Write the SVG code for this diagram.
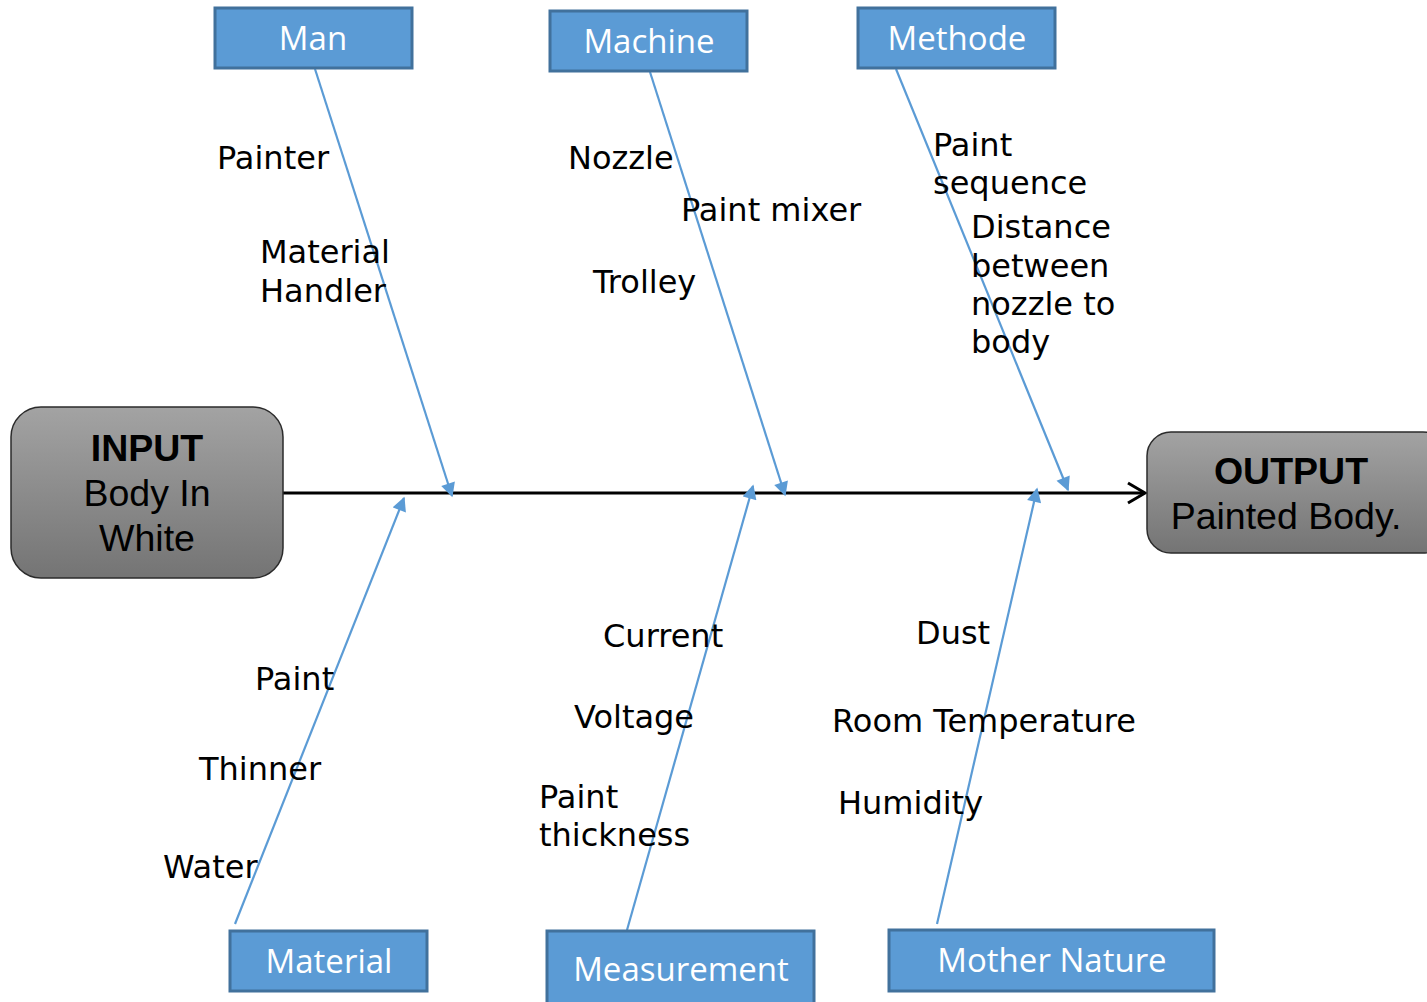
<svg xmlns="http://www.w3.org/2000/svg" width="1427" height="1002" viewBox="0 0 1427 1002">
  <defs>
    <linearGradient id="grayFill" x1="0" y1="0" x2="0" y2="1">
      <stop offset="0" stop-color="#a3a3a3"/>
      <stop offset="1" stop-color="#747474"/>
    </linearGradient>
    <marker id="bluehead" viewBox="0 0 10 10" refX="9" refY="5" markerWidth="7" markerHeight="6.5" markerUnits="strokeWidth" orient="auto">
      <path d="M0,0 L10,5 L0,10 Z" fill="#5b9bd5"/>
    </marker>
  </defs>
  <style>
    .cat rect { fill: #5b9bd5; stroke: #41719c; stroke-width: 3; }
    .cat text { fill: #ffffff; font-family: "Open Sans", "Noto Sans", sans-serif; font-size: 33px; text-anchor: middle; }
    .term rect { fill: url(#grayFill); stroke: #2b2b2b; stroke-width: 1.5; }
    .term text { fill: #000000; font-family: "Liberation Sans", Arial, sans-serif; font-size: 37.5px; text-anchor: middle; }
    .term .head { font-weight: bold; }
    .bone { stroke: #5b9bd5; stroke-width: 2.2; fill: none; marker-end: url(#bluehead); }
    .cause { fill: #000000; font-family: "DejaVu Sans", Verdana, sans-serif; font-size: 32px; }
  </style>

  <rect width="1427" height="1002" fill="#ffffff"/>

  <!-- spine and cause bones -->
  <g id="connectors">
    <line x1="283" y1="493" x2="1144" y2="493" stroke="#000" stroke-width="3"/>
    <polyline points="1128,483 1145,493 1128,503" fill="none" stroke="#000" stroke-width="3"/>
    <line class="bone" x1="315" y1="69" x2="452" y2="496"/>
    <line class="bone" x1="650" y1="72" x2="785" y2="495"/>
    <line class="bone" x1="896" y1="69" x2="1068" y2="490"/>
    <line class="bone" x1="235" y1="924" x2="404" y2="498"/>
    <line class="bone" x1="627" y1="930" x2="753" y2="486"/>
    <line class="bone" x1="937" y1="924" x2="1037" y2="489"/>
  </g>

  <!-- head and tail -->
  <g id="input" class="term">
    <rect x="11" y="407" width="272" height="171" rx="30" ry="30"/>
    <text x="147" y="461" class="head">INPUT</text>
    <text x="147" y="506">Body In</text>
    <text x="147" y="551">White</text>
  </g>
  <g id="output" class="term">
    <rect x="1147" y="432" width="300" height="121" rx="24" ry="24"/>
    <text x="1291" y="484" class="head">OUTPUT</text>
    <text x="1286" y="529">Painted Body.</text>
  </g>

  <!-- category boxes -->
  <g id="man" class="cat">
    <rect x="215" y="8" width="197" height="60"/>
    <text x="313" y="50">Man</text>
  </g>
  <g id="machine" class="cat">
    <rect x="550" y="11" width="197" height="60"/>
    <text x="649" y="53">Machine</text>
  </g>
  <g id="methode" class="cat">
    <rect x="858" y="8" width="197" height="60"/>
    <text x="957" y="50">Methode</text>
  </g>
  <g id="material" class="cat">
    <rect x="230" y="931" width="197" height="60"/>
    <text x="329" y="973">Material</text>
  </g>
  <g id="measurement" class="cat">
    <rect x="547" y="931" width="267" height="80"/>
    <text x="681" y="981">Measurement</text>
  </g>
  <g id="mother-nature" class="cat">
    <rect x="889" y="930" width="325" height="61"/>
    <text x="1052" y="972">Mother Nature</text>
  </g>

  <!-- causes -->
  <g id="man-causes">
    <text class="cause" x="217" y="169">Painter</text>
    <text class="cause" x="260" y="263">Material</text>
    <text class="cause" x="260" y="302">Handler</text>
  </g>
  <g id="machine-causes">
    <text class="cause" x="568" y="169">Nozzle</text>
    <text class="cause" x="681" y="221">Paint mixer</text>
    <text class="cause" x="593" y="293">Trolley</text>
  </g>
  <g id="methode-causes">
    <text class="cause" x="933" y="156">Paint</text>
    <text class="cause" x="933" y="194">sequence</text>
    <text class="cause" x="971" y="238">Distance</text>
    <text class="cause" x="971" y="277">between</text>
    <text class="cause" x="971" y="315">nozzle to</text>
    <text class="cause" x="971" y="353">body</text>
  </g>
  <g id="material-causes">
    <text class="cause" x="255" y="690">Paint</text>
    <text class="cause" x="199" y="780">Thinner</text>
    <text class="cause" x="163" y="878">Water</text>
  </g>
  <g id="measurement-causes">
    <text class="cause" x="603" y="647">Current</text>
    <text class="cause" x="574" y="728">Voltage</text>
    <text class="cause" x="539" y="808">Paint</text>
    <text class="cause" x="539" y="846">thickness</text>
  </g>
  <g id="nature-causes">
    <text class="cause" x="916" y="644">Dust</text>
    <text class="cause" x="832" y="732">Room Temperature</text>
    <text class="cause" x="838" y="814">Humidity</text>
  </g>
</svg>
